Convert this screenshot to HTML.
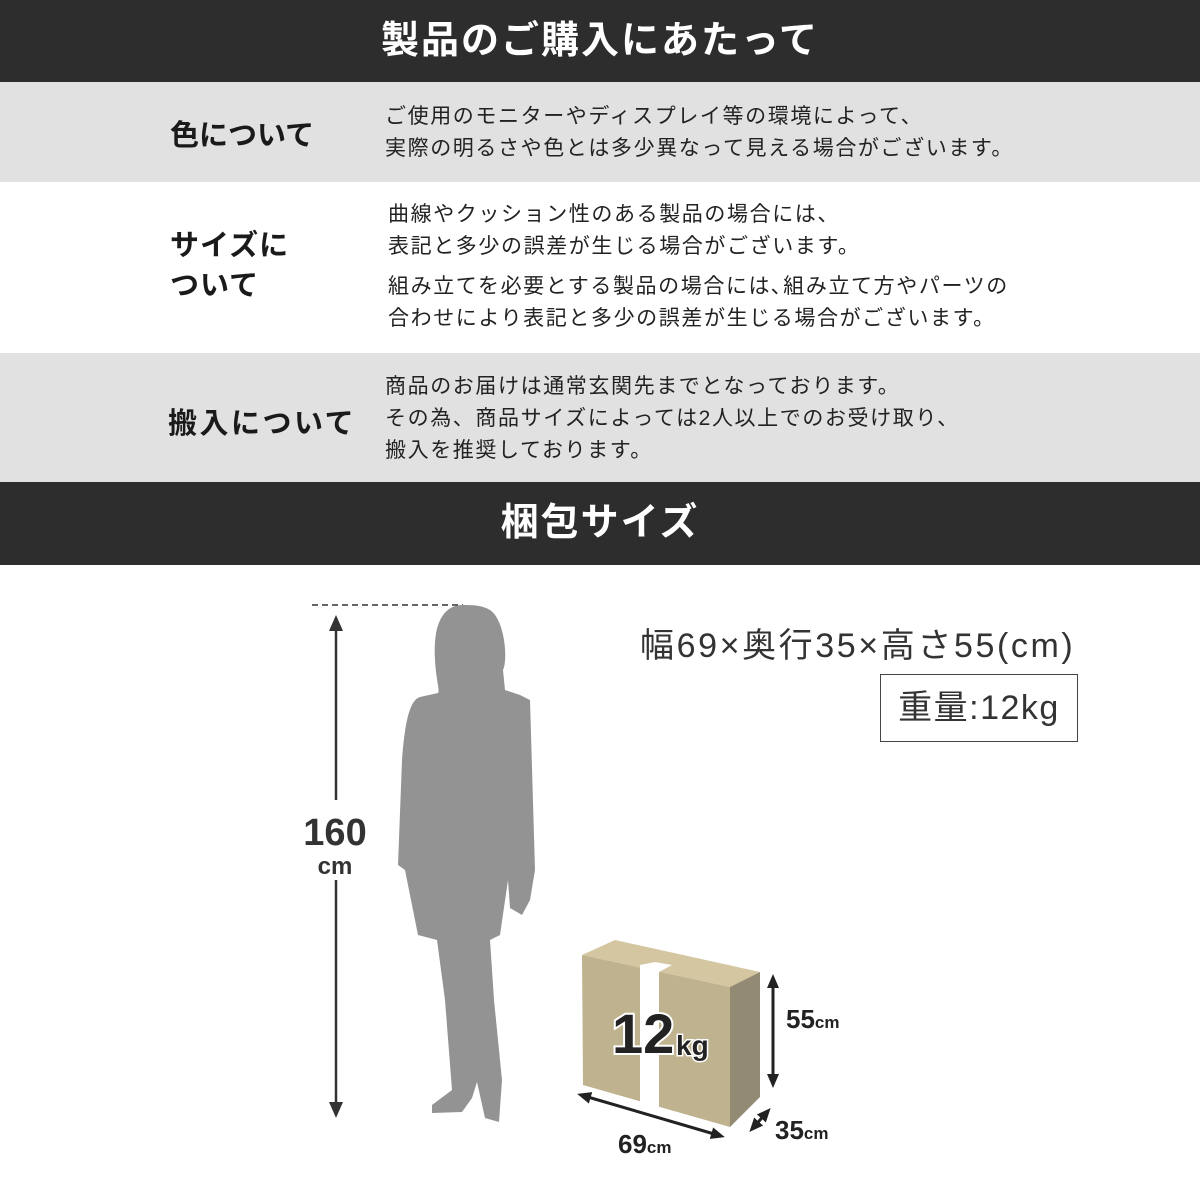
<!DOCTYPE html>
<html><head><meta charset="utf-8"><style>
body{margin:0;width:1200px;height:1200px;position:relative;background:#fff;font-family:"Liberation Sans","Noto Sans CJK JP",sans-serif;color:#222;overflow:hidden}
.a{position:absolute}
.bar{left:0;width:1200px;background:#2d2d2d;color:#fff;font-weight:bold;font-size:38px;text-align:center;letter-spacing:2px}
.g{left:0;width:1200px;background:#e1e1e1}
.h{font-weight:bold;font-size:29px;color:#1a1a1a}
.t{font-size:21px;line-height:32px;color:#222;letter-spacing:1.6px;white-space:nowrap}
</style></head><body>
<div class="a bar" style="top:0;height:82px;line-height:82px">製品のご購入にあたって</div>
<div class="a g" style="top:82px;height:100px"></div>
<div class="a h" style="left:170px;top:112px">色について</div>
<div class="a t" style="left:385px;top:101px">ご使用のモニターやディスプレイ等の環境によって、<br>実際の明るさや色とは多少異なって見える場合がございます。</div>
<div class="a h" style="left:170px;top:226px;line-height:40px;letter-spacing:1px">サイズに<br>ついて</div>
<div class="a t" style="left:388px;top:199px">曲線やクッション性のある製品の場合には、<br>表記と多少の誤差が生じる場合がございます。</div>
<div class="a t" style="left:388px;top:271px">組み立てを必要とする製品の場合には､組み立て方やパーツの<br>合わせにより表記と多少の誤差が生じる場合がございます。</div>
<div class="a g" style="top:353px;height:129px"></div>
<div class="a h" style="left:168px;top:400px;letter-spacing:2.5px">搬入について</div>
<div class="a t" style="left:385px;top:371px">商品のお届けは通常玄関先までとなっております。<br>その為、商品サイズによっては2人以上でのお受け取り、<br>搬入を推奨しております。</div>
<div class="a bar" style="top:482px;height:83px;line-height:83px">梱包サイズ</div>
<div class="a" style="left:640px;top:618px;font-size:34px;color:#333;letter-spacing:2.6px;white-space:nowrap">幅69×奥行35×高さ55(cm)</div>
<div class="a" style="left:880px;top:674px;width:198px;height:68px;border:1px solid #444;box-sizing:border-box;font-size:34px;line-height:66px;text-align:center;color:#333;letter-spacing:1.5px">重量:12kg</div>
<svg class="a" style="left:0;top:0" width="1200" height="1200">
<defs><marker id="m" markerWidth="14" markerHeight="12" refX="10" refY="6" orient="auto-start-reverse" markerUnits="userSpaceOnUse"><path d="M0,0L14,6L0,12z" fill="#222"/></marker></defs>
<line x1="312" y1="605" x2="463" y2="605" stroke="#333" stroke-width="1.5" stroke-dasharray="6,4"/>
<line x1="336" y1="628" x2="336" y2="800" stroke="#333" stroke-width="2.5"/>
<line x1="336" y1="880" x2="336" y2="1105" stroke="#333" stroke-width="2.5"/>
<path d="M336,615 l-7,16 h14z M336,1118 l-7,-16 h14z" fill="#333"/>
<text x="335" y="845" font-size="38" font-weight="bold" text-anchor="middle" fill="#333" font-family="Liberation Sans,sans-serif">160</text>
<text x="335" y="874" font-size="24" font-weight="bold" text-anchor="middle" fill="#333" font-family="Liberation Sans,sans-serif">cm</text>
<path fill="#939393" d="M463,605 C440,605 433,630 435,660 C436,680 440,690 438,693 L420,697 C410,700 405,720 402,760 L398,865 L405,870 L418,935 L437,940 L445,1000 L452,1090 L432,1105 L432,1113 L462,1112 L472,1098 L477,1082 L485,1118 L499,1122 L502,1080 L494,1000 L490,940 L500,935 L508,880 L510,908 L522,915 L530,900 L535,870 L530,700 L520,695 L505,690 L503,670 C508,660 505,620 490,610 C482,605 472,605 463,605 Z"/>
<polygon points="582,955 615,940 760,972 730,987" fill="#d3c6a0"/>
<polygon points="582,955 730,987 730,1127 583,1085" fill="#bfb28e"/>
<polygon points="730,987 760,972 760,1097 730,1127" fill="#928a73"/>
<polygon points="640,965 655,962 672,965 659,972 659,1112 640,1107" fill="#fff"/>
<text x="612" y="1053" font-size="56" font-weight="bold" fill="#222" stroke="#fff" stroke-width="4" paint-order="stroke" font-family="Liberation Sans,sans-serif">12</text>
<text x="676" y="1055" font-size="28" font-weight="bold" fill="#222" stroke="#fff" stroke-width="3" paint-order="stroke" font-family="Liberation Sans,sans-serif">kg</text>
<line x1="773" y1="978" x2="773" y2="1084" stroke="#222" stroke-width="3" marker-start="url(#m)" marker-end="url(#m)"/>
<line x1="581" y1="1095" x2="721" y2="1136" stroke="#222" stroke-width="3" marker-start="url(#m)" marker-end="url(#m)"/>
<line x1="752" y1="1129" x2="768" y2="1111" stroke="#222" stroke-width="3" marker-start="url(#m)" marker-end="url(#m)"/>
<g font-weight="bold" fill="#222" font-family="Liberation Sans,sans-serif">
<text x="786" y="1028" font-size="26">55<tspan font-size="17">cm</tspan></text>
<text x="775" y="1139" font-size="26">35<tspan font-size="17">cm</tspan></text>
<text x="618" y="1153" font-size="26">69<tspan font-size="17">cm</tspan></text>
</g>
</svg>
</body></html>
